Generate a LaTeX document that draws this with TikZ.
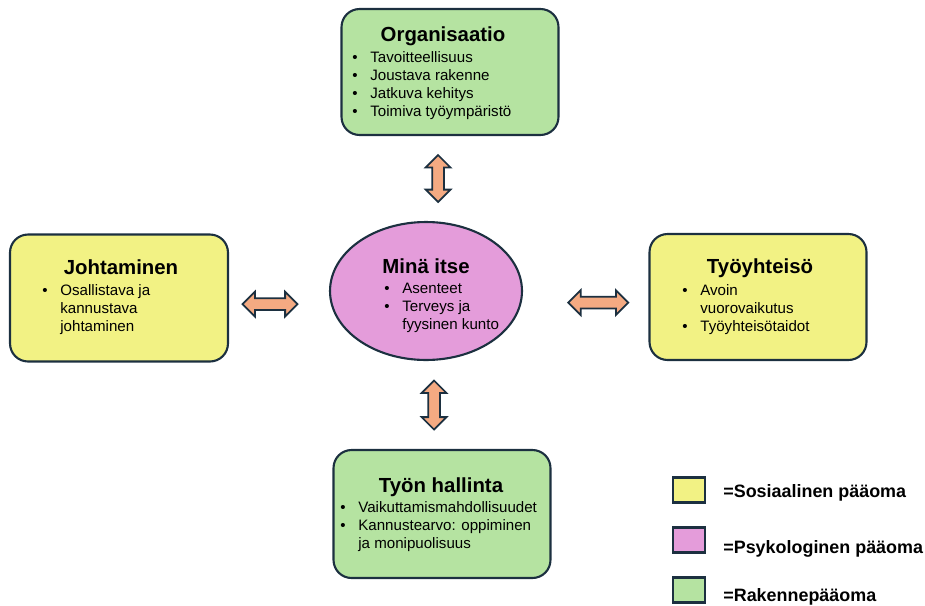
\documentclass[tikz,border=0pt]{standalone}
\usepackage{fontspec}
\setmainfont{Liberation Sans}
\usetikzlibrary{shapes.geometric,shapes.arrows,calc,positioning}
\definecolor{rim}{RGB}{28,48,64}
\definecolor{sosfill}{RGB}{242,242,132}
\definecolor{psyfill}{RGB}{228,156,218}
\definecolor{rakfill}{RGB}{181,227,161}
\definecolor{arrfill}{RGB}{244,170,130}
\newcommand\bul{\makebox[0.36cm][l]{\textbullet}}
\newcommand\nob{\hspace*{0.36cm}}

\tikzset{
  box/.style={draw=rim, line width=1.2pt, rounded corners=0.36cm, inner sep=0pt,
    minimum width=4.34cm, minimum height=2.52cm},
  ttl/.style={font=\fontsize{11.6}{14}\selectfont\bfseries, inner sep=0pt, anchor=base},
  lst/.style={font=\fontsize{8.6}{10.3}\selectfont, align=left, inner sep=0pt, anchor=north west},
  dblarr/.style={double arrow, draw=rim, fill=arrfill, line width=1pt, inner xsep=0pt,
    inner ysep=0.1cm, double arrow head extend=0.13cm},
  key/.style={draw=rim, line width=1.2pt, minimum width=0.64cm, minimum height=0.5cm, inner sep=0pt},
  keytxt/.style={font=\fontsize{10.2}{12}\selectfont\bfseries, anchor=base west, inner sep=0pt}
}

\begin{document}
\begin{tikzpicture}[x=0.02cm, y=-0.02cm]
\useasboundingbox (0,0) rectangle (925,605);
%\draw [very thin, gray] (0,0) grid[step=50] (925,605);

% boxes
\node [box, fill=rakfill] (org) at (450,72) {};
\node [box, fill=sosfill, minimum width=4.36cm, minimum height=2.54cm] (joh) at (119,298) {};
\node [box, fill=sosfill] (yht) at (758,297) {};
\node [box, fill=rakfill, minimum height=2.56cm] (hal) at (442,514) {};
\node [ellipse, draw=rim, line width=1.2pt, fill=psyfill, inner sep=0pt,
  minimum width=3.84cm, minimum height=2.76cm] (mina) at (426,291) {};

% texts
\node [ttl] (orgT) at (443,41) {Organisaatio};
\node [lst] (orgL) at (352,51) {\bul Tavoitteellisuus\\ \bul Joustava rakenne\\
  \bul Jatkuva kehitys\\ \bul Toimiva työympäristö};
\node [ttl] (johT) at (121,274) {Johtaminen};
\node [lst] (johL) at (42,284) {\bul Osallistava ja\\ \nob kannustava\\ \nob johtaminen};
\node [ttl] (yhtT) at (760,273) {Työyhteisö};
\node [lst] (yhtL) at (682,284) {\bul Avoin\\ \nob vuorovaikutus\\ \bul Työyhteisötaidot};
\node [ttl] (minaT) at (426,273) {Minä itse};
\node [lst] (minaL) at (384,283) {\bul Asenteet\\ \bul Terveys ja\\ \nob fyysinen kunto};
\node [ttl] (halT) at (441,492) {Työn hallinta};
\node [lst] (halL) at (340,501) {\bul Vaikuttamismahdollisuudet\\
  \bul Kannustearvo: oppiminen\\ \nob ja monipuolisuus};

% arrows
\node [dblarr, rotate=90, minimum height=0.94cm] (a1) at ($(org.south)!.5!(mina.north)$) {};
\node [dblarr, rotate=90, minimum height=0.98cm] (a2) at ($(mina.south)!.5!(hal.north)$) {};
\node [dblarr, minimum height=1.1cm] (a3) at ($(joh.east)!.41!(mina.west)+(0,9)$) {};
\node [dblarr, minimum height=1.2cm] (a4) at ($(mina.east)!.6!(yht.west)+(0,8)$) {};

% legend
\node [key, fill=sosfill] (k1) at (689,490) {};
\node [key, fill=psyfill] (k2) at (689,540) {};
\node [key, fill=rakfill] (k3) at (689,590) {};
\node [keytxt] (t1) at (723,497) {=Sosiaalinen pääoma};
\node [keytxt] (t2) at (723,553) {=Psykologinen pääoma};
\node [keytxt] (t3) at (723,601) {=Rakennepääoma};
\end{tikzpicture}
\end{document}
